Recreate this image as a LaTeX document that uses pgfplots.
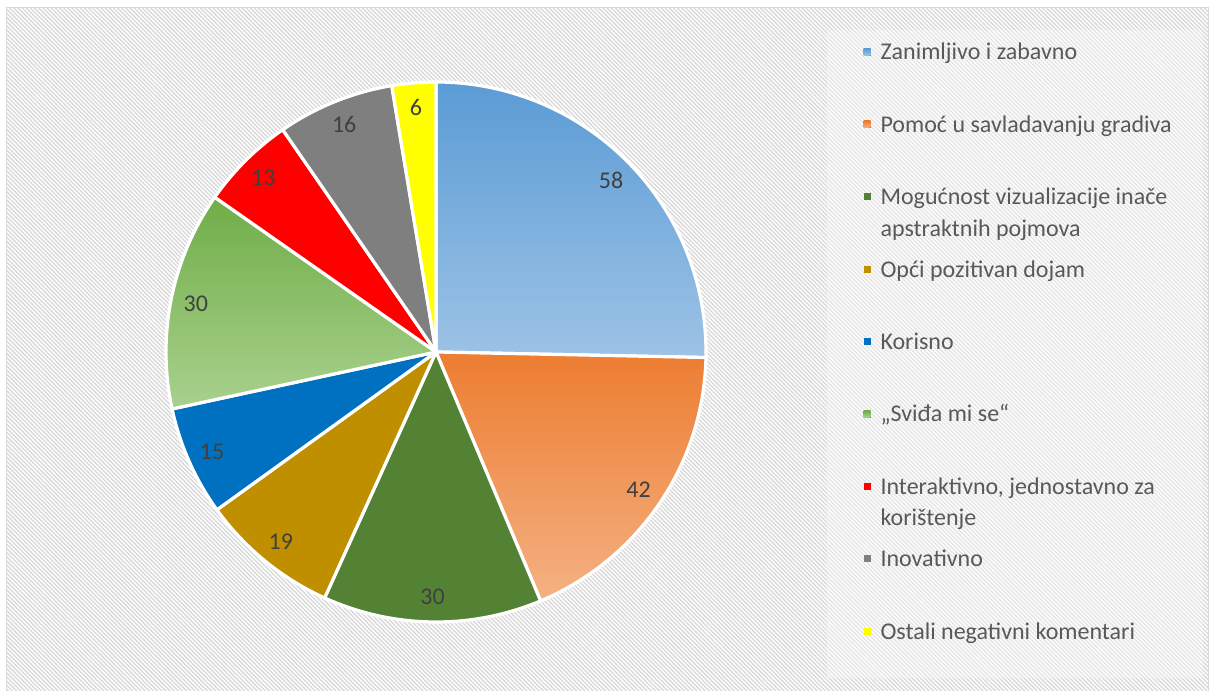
\documentclass[border=0pt]{standalone}
\usepackage{pgfplots}
\pgfplotsset{compat=1.18}
\usepackage{pgfplotstable}
\usetikzlibrary{patterns.meta}
\usepackage{fontspec}
\setmainfont{Carlito}

\definecolor{cA1}{HTML}{5B9BD5}\definecolor{cA2}{HTML}{9DC3E6}
\definecolor{cB1}{HTML}{ED7D31}\definecolor{cB2}{HTML}{F4B183}
\definecolor{cC}{HTML}{548235}
\definecolor{cD}{HTML}{BF8F00}
\definecolor{cE}{HTML}{0070C0}
\definecolor{cF1}{HTML}{70AD47}\definecolor{cF2}{HTML}{A9D18E}
\definecolor{cG}{HTML}{FF0000}
\definecolor{cH}{HTML}{7F7F7F}
\definecolor{cI}{HTML}{FFFF00}
\definecolor{txt}{HTML}{595959}
\definecolor{lbl}{HTML}{404040}
\definecolor{hatch}{HTML}{D8D8D8}
\definecolor{framec}{HTML}{D9D9D9}

\pgfplotstableread{
v
58
42
30
19
15
30
13
16
6
}\piedata

\xdef\pieTotal{0}%
\pgfplotstableforeachcolumnelement{v}\of\piedata\as\pieVal{%
  \pgfmathsetmacro\pieTmp{\pieTotal+\pieVal}\xdef\pieTotal{\pieTmp}}%
\xdef\pieCum{0}%
\pgfplotstableforeachcolumnelement{v}\of\piedata\as\pieVal{%
  \pgfmathsetmacro\pieS{90-(\pieCum/\pieTotal)*360}%
  \pgfmathsetmacro\pieC{\pieCum+\pieVal}%
  \pgfmathsetmacro\pieE{90-(\pieC/\pieTotal)*360}%
  \pgfmathsetmacro\pieM{(\pieS+\pieE)/2}%
  \expandafter\xdef\csname angS\pgfplotstablerow\endcsname{\pieS}%
  \expandafter\xdef\csname angE\pgfplotstablerow\endcsname{\pieE}%
  \expandafter\xdef\csname angM\pgfplotstablerow\endcsname{\pieM}%
  \expandafter\xdef\csname val\pgfplotstablerow\endcsname{\pieVal}%
  \xdef\pieCum{\pieC}}%

\newcommand\slice[2]{%
  \addplot[#2, draw=white, line width=2.4pt, line join=round,
    domain=\csname angE#1\endcsname:\csname angS#1\endcsname,
    samples=90, variable=\t]
    ({436+270*cos(\t)},{339+270*sin(\t)}) -- (axis cs:436,339) -- cycle;}
\newcommand\plabel[1]{%
  \node[text=lbl, font=\fontsize{18}{21.6}\selectfont, inner sep=0pt] at
    (axis cs:{436+245*cos(\csname angM#1\endcsname)},{339+245*sin(\csname angM#1\endcsname)})
    {\csname val#1\endcsname};}

\begin{document}
\begin{tikzpicture}
\begin{axis}[
  width=909.75pt, height=518.25pt, scale only axis,
  xmin=0, xmax=1213, ymin=0, ymax=691, hide axis,
  legend style={at={(axis cs:862,648.5)}, anchor=north west, draw=none, fill=none,
    inner sep=0pt, outer sep=0pt, row sep=36.8pt, column sep=0pt,
    font=\fontsize{18}{21.6}\selectfont, text=txt,
    nodes={inner sep=0pt, outer sep=0pt, text height=13pt, text depth=4.5pt, anchor=base west}},
  legend image code/.code={%
    \fill[#1, draw=none] (0pt,3.2pt) rectangle (5.25pt,8.45pt);
    \path (0pt,0pt) (11.5pt,0pt);},
]
% background
\fill[white] (axis cs:0,0) rectangle (axis cs:1213,691);
\fill[pattern={Lines[angle=-45, distance=2.2pt, line width=1pt]}, pattern color=hatch]
  (axis cs:7,-5) rectangle (axis cs:1208,683);
\fill[white, opacity=0.3] (axis cs:827,13) rectangle (axis cs:1203,661);
\draw[framec, line width=1.3pt] (axis cs:6.5,-5) -- (axis cs:6.5,683.5) -- (axis cs:1208.5,683.5) -- (axis cs:1208.5,-5);

\slice{0}{top color=cA1, bottom color=cA2}
\addlegendentry{Zanimljivo i zabavno}
\slice{1}{top color=cB1, bottom color=cB2}
\addlegendentry{Pomoć u savladavanju gradiva}
\slice{2}{fill=cC}
\addlegendentry{\smash{\begin{tabular}[t]{@{}l@{}}Mogućnost vizualizacije inače\\[2.5pt]apstraktnih pojmova\end{tabular}}}
\slice{3}{fill=cD}
\addlegendentry{Opći pozitivan dojam}
\slice{4}{fill=cE}
\addlegendentry{Korisno}
\slice{5}{top color=cF1, bottom color=cF2}
\addlegendentry{„Sviđa mi se“}
\slice{6}{fill=cG}
\addlegendentry{\smash{\begin{tabular}[t]{@{}l@{}}Interaktivno, jednostavno za\\[1.5pt]korištenje\end{tabular}}}
\slice{7}{fill=cH}
\addlegendentry{Inovativno}
\slice{8}{fill=cI}
\addlegendentry{Ostali negativni komentari}

\plabel{0}\plabel{1}\plabel{2}\plabel{3}\plabel{4}\plabel{5}\plabel{6}\plabel{7}\plabel{8}
\end{axis}
\end{tikzpicture}
\end{document}
